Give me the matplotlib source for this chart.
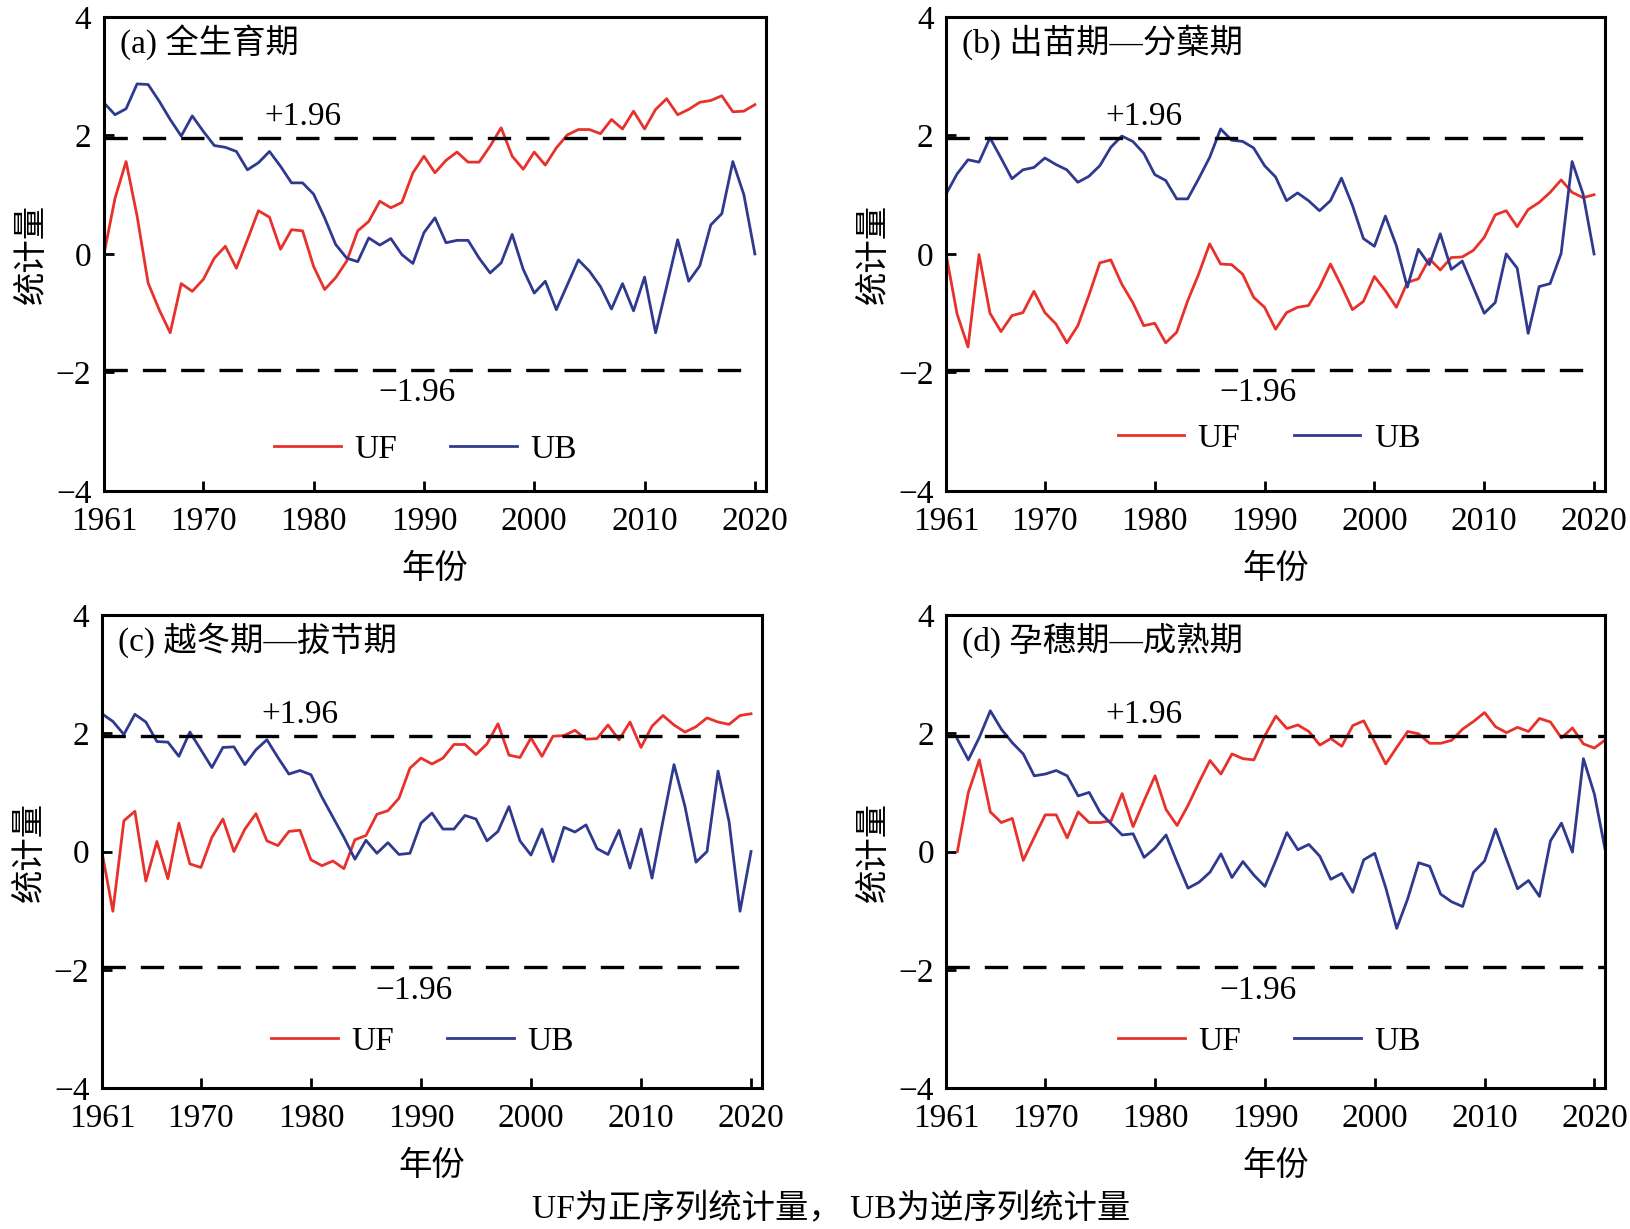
import numpy as np
import matplotlib
matplotlib.use("Agg")
import matplotlib.pyplot as plt

plt.rcParams['font.family'] = ['Liberation Serif', 'Noto Sans CJK SC']
plt.rcParams['axes.unicode_minus'] = True

years = np.arange(1961, 2021)
years_d = np.arange(1962, 2022)

uf_a = [0.00, 0.94, 1.56, 0.64, -0.49, -0.94, -1.33, -0.50, -0.63, -0.43,
        -0.07, 0.13, -0.24, 0.24, 0.73, 0.62, 0.08, 0.41, 0.39, -0.21,
        -0.60, -0.40, -0.12, 0.39, 0.55, 0.89, 0.78, 0.87, 1.37, 1.65,
        1.37, 1.58, 1.72, 1.55, 1.55, 1.82, 2.13, 1.65, 1.43, 1.72,
        1.50, 1.79, 2.01, 2.10, 2.10, 2.03, 2.27, 2.11, 2.41, 2.11,
        2.44, 2.62, 2.35, 2.44, 2.56, 2.59, 2.67, 2.40, 2.41, 2.52]
ub_a = [2.55, 2.35, 2.45, 2.87, 2.86, 2.58, 2.27, 1.99, 2.33, 2.07,
        1.83, 1.80, 1.73, 1.42, 1.54, 1.73, 1.48, 1.20, 1.20, 1.01,
        0.61, 0.16, -0.07, -0.13, 0.27, 0.15, 0.26, -0.01, -0.16, 0.36,
        0.61, 0.19, 0.23, 0.23, -0.07, -0.32, -0.15, 0.33, -0.26, -0.66,
        -0.46, -0.94, -0.52, -0.10, -0.29, -0.55, -0.93, -0.50, -0.96, -0.39,
        -1.33, -0.55, 0.24, -0.46, -0.20, 0.49, 0.68, 1.56, 1.00, 0.00]

uf_b = [0.00, -1.01, -1.57, -0.01, -1.00, -1.31, -1.04, -0.99, -0.63, -0.99,
        -1.18, -1.50, -1.21, -0.70, -0.15, -0.10, -0.51, -0.82, -1.21, -1.17,
        -1.50, -1.32, -0.79, -0.34, 0.17, -0.17, -0.18, -0.34, -0.73, -0.90,
        -1.27, -0.99, -0.90, -0.87, -0.56, -0.17, -0.54, -0.94, -0.80, -0.38,
        -0.62, -0.90, -0.48, -0.42, -0.08, -0.27, -0.06, -0.05, 0.06, 0.28,
        0.66, 0.73, 0.46, 0.75, 0.87, 1.04, 1.25, 1.04, 0.95, 1.00]
ub_b = [1.01, 1.35, 1.59, 1.55, 1.96, 1.62, 1.27, 1.42, 1.46, 1.62,
        1.51, 1.42, 1.21, 1.31, 1.49, 1.80, 1.99, 1.90, 1.70, 1.34,
        1.24, 0.93, 0.93, 1.27, 1.63, 2.11, 1.92, 1.90, 1.79, 1.49,
        1.30, 0.90, 1.03, 0.90, 0.73, 0.90, 1.28, 0.82, 0.26, 0.13,
        0.64, 0.14, -0.56, 0.08, -0.18, 0.34, -0.26, -0.12, -0.56, -1.00,
        -0.82, 0.00, -0.24, -1.34, -0.55, -0.50, 0.01, 1.56, 1.01, 0.00]

uf_c = [0.00, -1.01, 0.52, 0.68, -0.50, 0.17, -0.46, 0.48, -0.21, -0.27,
        0.24, 0.55, 0.00, 0.38, 0.64, 0.18, 0.10, 0.34, 0.36, -0.14,
        -0.24, -0.16, -0.29, 0.20, 0.27, 0.63, 0.69, 0.90, 1.41, 1.58,
        1.48, 1.58, 1.81, 1.81, 1.64, 1.82, 2.16, 1.63, 1.59, 1.92,
        1.61, 1.95, 1.96, 2.05, 1.90, 1.91, 2.14, 1.89, 2.19, 1.76,
        2.12, 2.30, 2.14, 2.02, 2.11, 2.26, 2.19, 2.15, 2.30, 2.33]
ub_c = [2.33, 2.20, 1.98, 2.32, 2.19, 1.86, 1.85, 1.61, 2.02, 1.72,
        1.42, 1.76, 1.77, 1.47, 1.72, 1.89, 1.59, 1.31, 1.37, 1.30,
        0.92, 0.58, 0.24, -0.13, 0.19, -0.03, 0.15, -0.05, -0.03, 0.48,
        0.65, 0.38, 0.38, 0.61, 0.55, 0.18, 0.34, 0.76, 0.18, -0.06,
        0.38, -0.17, 0.41, 0.33, 0.45, 0.05, -0.05, 0.36, -0.28, 0.38,
        -0.45, 0.52, 1.47, 0.76, -0.18, 0.00, 1.36, 0.51, -1.01, 0.00]

uf_d = [0.00, 1.00, 1.55, 0.67, 0.49, 0.56, -0.15, 0.24, 0.62, 0.62,
        0.23, 0.67, 0.49, 0.49, 0.52, 0.98, 0.42, 0.86, 1.28, 0.71,
        0.44, 0.78, 1.17, 1.54, 1.31, 1.65, 1.57, 1.55, 1.96, 2.29,
        2.08, 2.14, 2.03, 1.80, 1.91, 1.78, 2.13, 2.21, 1.85, 1.48,
        1.76, 2.03, 1.99, 1.83, 1.83, 1.88, 2.07, 2.20, 2.35, 2.11,
        2.01, 2.10, 2.03, 2.25, 2.19, 1.92, 2.09, 1.82, 1.75, 1.89]
ub_d = [1.90, 1.55, 1.93, 2.38, 2.07, 1.84, 1.65, 1.28, 1.31, 1.37,
        1.28, 0.94, 1.00, 0.66, 0.47, 0.28, 0.30, -0.10, 0.06, 0.28,
        -0.18, -0.62, -0.52, -0.35, -0.04, -0.44, -0.17, -0.40, -0.59, -0.15,
        0.32, 0.03, 0.12, -0.08, -0.47, -0.37, -0.69, -0.14, -0.03, -0.61,
        -1.30, -0.80, -0.19, -0.25, -0.72, -0.85, -0.93, -0.35, -0.16, 0.38,
        -0.13, -0.63, -0.49, -0.76, 0.18, 0.48, -0.01, 1.57, 0.97, 0.01]

titles = ['(a) 全生育期', '(b) 出苗期—分蘖期', '(c) 越冬期—拔节期', '(d) 孕穗期—成熟期']
xticks = [1961, 1970, 1980, 1990, 2000, 2010, 2020]
yticks = [-4, -2, 0, 2, 4]
crit = 1.96
caption = 'UF为正序列统计量， UB为逆序列统计量'

RED = '#e8312b'
BLUE = '#2f3a8f'
FS = 24

fig = plt.figure(figsize=(16.3, 12.29), dpi=100)

rects = [
    [0.0638, 0.6005, 0.4061, 0.3857],
    [0.5804, 0.6005, 0.4043, 0.3857],
    [0.0625, 0.1147, 0.4050, 0.3849],
    [0.5806, 0.1147, 0.4043, 0.3849],
]
datasets = [
    (years, uf_a, ub_a, 2020, 0.0875, 0.486),
    (years, uf_b, ub_b, 2020, 0.110, 0.490),
    (years, uf_c, ub_c, 2020, 0.0975, 0.486),
    (years_d, uf_d, ub_d, 2021, 0.0975, 0.490),
]

for i, (rect, (yrs, uf, ub, hend, legy, legx)) in enumerate(zip(rects, datasets)):
    ax = fig.add_axes(rect)
    ax.plot(yrs, uf, color=RED, lw=2.0, label='UF')
    ax.plot(yrs, ub, color=BLUE, lw=2.0, label='UB')
    for v in (crit, -crit):
        ax.plot([1961, hend], [v, v], color='black', lw=2.4,
                linestyle=(0, (7, 4.5)))
    ax.set_xlim(1961, 2021)
    ax.set_ylim(-4, 4)
    ax.set_xticks(xticks)
    ax.set_yticks(yticks)
    ax.tick_params(direction='in', length=7, width=2, labelsize=FS)
    ax.tick_params(axis='x', pad=11)
    ax.tick_params(axis='y', pad=9)
    for s in ax.spines.values():
        s.set_linewidth(2.2)
    ax.text(0.024, 0.947, titles[i], transform=ax.transAxes, fontsize=FS,
            ha='left', va='center')
    ax.text(1979.0, 2.32, '+1.96', fontsize=FS, ha='center', va='center')
    ax.text(1989.4, -2.35, '−1.96', fontsize=FS, ha='center', va='center')
    ax.set_xlabel('年份', fontsize=FS, labelpad=12)
    ax.set_ylabel('统计量', fontsize=FS, labelpad=6)
    ax.legend(loc='center', bbox_to_anchor=(legx, legy), ncol=2, frameon=False,
              fontsize=FS, handlelength=2.0, handletextpad=0.4,
              columnspacing=1.6, borderpad=0, borderaxespad=0)

fig.text(0.51, 0.017, caption, fontsize=FS, ha='center', va='center')

fig.savefig('out.png', dpi=100)
